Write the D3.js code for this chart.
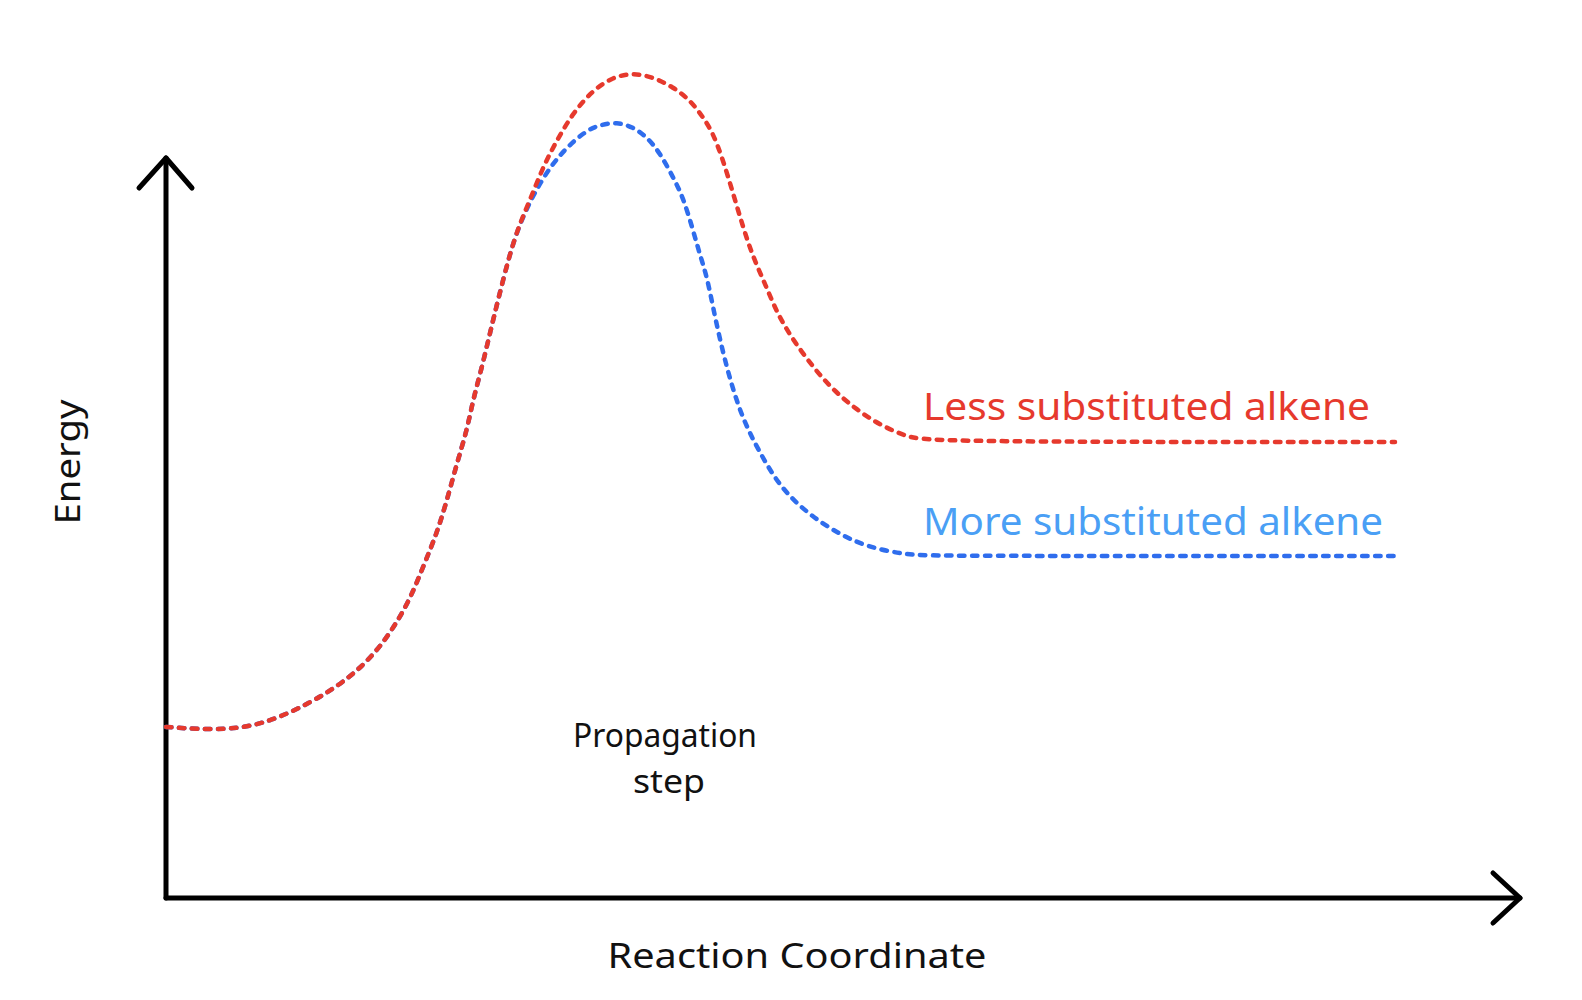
<!DOCTYPE html>
<html>
<head>
<meta charset="utf-8">
<script src="https://cdn.jsdelivr.net/npm/d3@7"></script>
<style>
  html, body { margin: 0; padding: 0; background: #fff; }
  svg { display: block; }
  text { font-family: "Noto Sans", "DejaVu Sans", sans-serif; }
</style>
</head>
<body>
<svg id="chart" width="1582" height="1000"></svg>
<script>
// Reaction coordinate (arbitrary units) and energy (arbitrary units)
const lessX = [0, 61, 104, 144, 177, 211, 241, 257, 271, 281, 291, 301, 307, 316, 324, 332, 344, 354, 364, 377, 391, 407, 427, 447, 467, 487, 507, 524, 537, 547, 557, 567, 577, 587, 600, 611, 627, 647, 667, 691, 714, 741, 767, 1229];
const lessE = [171, 167, 176, 195, 215, 245, 291, 331, 365, 398, 435, 468, 498, 531, 565, 598, 645, 675, 698, 731, 758, 785, 808, 821, 825, 821, 811, 798, 781, 765, 738, 705, 671, 641, 612, 585, 558, 531, 508, 488, 473, 461, 456, 456];

const moreX = [0, 61, 104, 144, 177, 211, 241, 257, 271, 281, 291, 301, 307, 316, 324, 332, 344, 353, 367, 384, 401, 421, 434, 451, 467, 481, 494, 507, 517, 527, 534, 541, 547, 554, 564, 577, 594, 614, 641, 671, 701, 741, 774, 1234];
const moreE = [171, 167, 176, 195, 215, 245, 291, 331, 365, 398, 435, 468, 498, 531, 565, 598, 645, 672, 703, 731, 751, 768, 773, 776, 771, 761, 745, 721, 701, 668, 643, 621, 591, 558, 518, 478, 445, 411, 385, 365, 351, 343, 342, 342];

const seriesNames = ["More substituted alkene", "Less substituted alkene"];
const axisLabels = { x: "Reaction Coordinate", y: "Energy" };
const stepLabel = ["Propagation", "step"];

const svg = d3.select("#chart");
const x = d3.scaleLinear().domain([0, 1354]).range([166, 1520]);
const y = d3.scaleLinear().domain([0, 740]).range([898, 158]);

const [x0, x1] = x.range();
const [y0, y1] = y.range();

// Axes
const axisG = svg.append("g")
  .attr("fill", "none").attr("stroke", "#000").attr("stroke-width", 5)
  .attr("stroke-linecap", "round").attr("stroke-linejoin", "round");
axisG.append("path").attr("d", `M${x0},${y0} L${x0},${y1}`);
axisG.append("path").attr("d", `M${x0},${y0} L${x1},${y0}`);
axisG.append("path").attr("d", `M${x0 - 27},${y1 + 30} L${x0},${y1} L${x0 + 26},${y1 + 30}`);
axisG.append("path").attr("d", `M${x1 - 27},${y0 - 25} L${x1},${y0} L${x1 - 27},${y0 + 25}`);

// Curves
const line = d3.line()
  .x(d => x(d[0])).y(d => y(d[1]))
  .curve(d3.curveBasis);

const series = [
  { name: seriesNames[0], pts: d3.zip(moreX, moreE), color: "#2f6ded" },
  { name: seriesNames[1], pts: d3.zip(lessX, lessE), color: "#e6392d" }
];

svg.append("g").selectAll("path").data(series).join("path")
  .attr("d", d => line(d.pts))
  .attr("fill", "none")
  .attr("stroke", d => d.color)
  .attr("stroke-width", 4.5)
  .attr("stroke-linecap", "round")
  .attr("stroke-dasharray", "5.5 7.5");

// Series labels
svg.append("text")
  .attr("x", 923).attr("y", 420)
  .attr("font-size", 38).attr("fill", "#e6392d")
  .attr("textLength", 447).attr("lengthAdjust", "spacingAndGlyphs")
  .text(seriesNames[1]);
svg.append("text")
  .attr("x", 923).attr("y", 535)
  .attr("font-size", 38).attr("fill", "#4a9ff5")
  .attr("textLength", 460).attr("lengthAdjust", "spacingAndGlyphs")
  .text(seriesNames[0]);

// Step label
svg.append("text")
  .attr("x", 665).attr("y", 747).attr("text-anchor", "middle")
  .attr("font-size", 32).attr("fill", "#111")
  .attr("textLength", 184).attr("lengthAdjust", "spacingAndGlyphs")
  .text(stepLabel[0]);
svg.append("text")
  .attr("x", 669).attr("y", 793).attr("text-anchor", "middle")
  .attr("font-size", 32).attr("fill", "#111")
  .attr("textLength", 72).attr("lengthAdjust", "spacingAndGlyphs")
  .text(stepLabel[1]);

// Axis labels
svg.append("text")
  .attr("x", 797).attr("y", 968).attr("text-anchor", "middle")
  .attr("font-size", 34).attr("fill", "#111")
  .attr("textLength", 379).attr("lengthAdjust", "spacingAndGlyphs")
  .text(axisLabels.x);
svg.append("text")
  .attr("transform", "translate(80,462) rotate(-90)")
  .attr("text-anchor", "middle")
  .attr("font-size", 34).attr("fill", "#111")
  .attr("textLength", 125).attr("lengthAdjust", "spacingAndGlyphs")
  .text(axisLabels.y);
</script>
</body>
</html>
